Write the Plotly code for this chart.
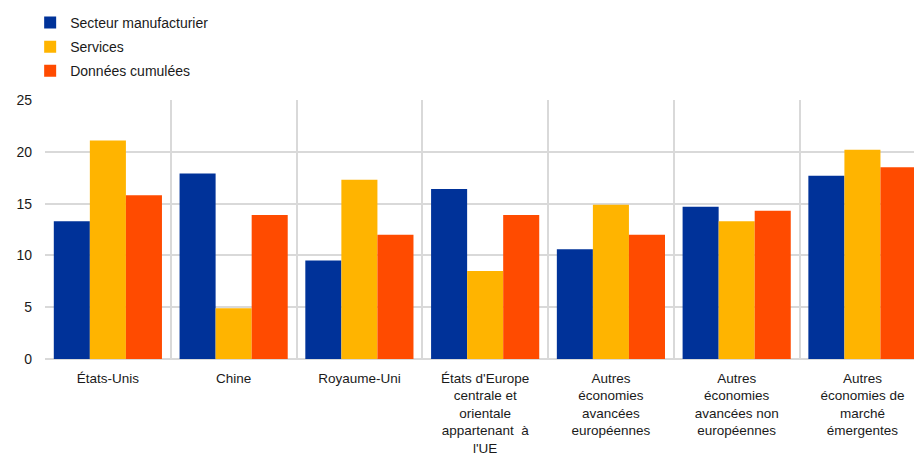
import plotly.graph_objects as go

categories = [
    "États-Unis",
    "Chine",
    "Royaume-Uni",
    "États d'Europe<br>centrale et<br>orientale<br>appartenant  à<br>l'UE",
    "Autres<br>économies<br>avancées<br>européennes",
    "Autres<br>économies<br>avancées non<br>européennes",
    "Autres<br>économies de<br>marché<br>émergentes",
]
manufacturier = [13.3, 17.9, 9.5, 16.4, 10.6, 14.7, 17.7]
services = [21.1, 4.9, 17.3, 8.5, 14.9, 13.3, 20.2]
cumulees = [15.8, 13.9, 12.0, 13.9, 12.0, 14.3, 18.5]

series = [
    ("Secteur manufacturier", manufacturier, "#003299"),
    ("Services", services, "#FFB400"),
    ("Données cumulées", cumulees, "#FF4B00"),
]

x = list(range(len(categories)))
boundaries = [i - 0.5 for i in range(len(categories) + 1)]

fig = go.Figure()
for i, (name, vals, col) in enumerate(series):
    fig.add_trace(go.Bar(
        x=x, y=vals, name=name, legendgroup=f"g{i}",
        marker=dict(color=col, line=dict(width=0)),
    ))

font_family = "Liberation Sans, Arial, sans-serif"
grid = "#d9d9d9"

fig.update_layout(
    width=914, height=457,
    margin=dict(l=45, r=0, t=100, b=98, autoexpand=False),
    paper_bgcolor="white", plot_bgcolor="white",
    barmode="group", bargap=0.14, bargroupgap=0,
    font=dict(family=font_family, size=14, color="#1a1a1a"),
    legend=dict(
        xref="container", yref="container",
        x=0.033, y=0.985, xanchor="left", yanchor="top",
        font=dict(size=14), tracegroupgap=3,
        bgcolor="rgba(0,0,0,0)",
    ),
    xaxis=dict(
        range=[-0.5, 6.41], automargin=False,
        tickmode="array", tickvals=x, ticktext=categories,
        showgrid=False, zeroline=False, showline=False, ticks="",
        tickangle=0, tickfont=dict(size=13.5), ticklabelstandoff=9,
        minor=dict(tickmode="array", tickvals=boundaries, showgrid=True,
                   gridcolor=grid, gridwidth=2, ticks=""),
    ),
    yaxis=dict(
        range=[0, 25], tickvals=[0, 5, 10, 15, 20, 25], automargin=False,
        showgrid=True, gridcolor=grid, gridwidth=2,
        zeroline=True, zerolinecolor=grid, zerolinewidth=2,
        showline=False, ticks="", ticklabelstandoff=12,
        tickfont=dict(size=14),
    ),
)

fig.write_html("out.html")
